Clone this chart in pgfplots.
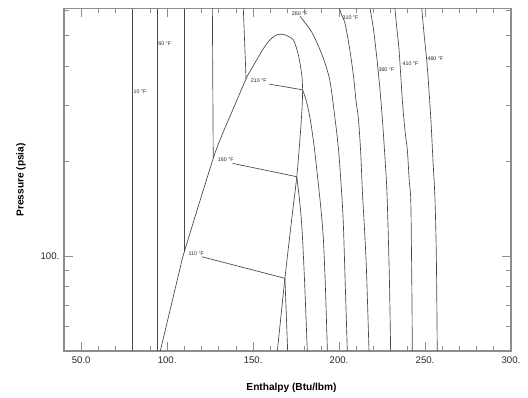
\documentclass[border=0pt]{standalone}
\usepackage{fontspec}
\setmainfont{Liberation Sans}
\usepackage{pgfplots}
\pgfplotsset{compat=1.18}
\tikzset{
  curve/.style={draw=black!72, line width=0.5pt},
  lab/.style={font=\fontsize{4}{4}\selectfont, anchor=west, inner sep=0pt, text=black!85},
}
\begin{document}
\begin{tikzpicture}
\path[use as bounding box] (0pt,0pt) rectangle (396pt,297.75pt);
\begin{axis}[
  at={(48pt,34.5pt)}, anchor=south west,
  width=335.25pt, height=256.7pt, scale only axis,
  xmin=40, xmax=300, ymode=log, ymin=50, ymax=608,
  axis line style={draw=black!45, line width=0.9pt},
  every tick/.style={draw=black!45, line width=0.6pt},
  major tick length=6.5pt, minor tick length=3.4pt,
  xtick={50,100,150,200,250,300},
  xticklabels={50.0,100.,150.,200.,250.,300.},
  minor xtick={60,70,80,90,110,120,130,140,160,170,180,190,210,220,230,240,260,270,280,290},
  ytick={100}, yticklabels={100.},
  minor ytick={60,70,80,90,200,300,400,500,600},
  tick label style={font=\fontsize{7.2}{8}\selectfont, text=black!85},
  xticklabel style={yshift=-1pt},
  label style={font=\bfseries\fontsize{7.6}{9}\selectfont},
  xlabel={Enthalpy (Btu/lbm)},
  ylabel={Pressure (psia)},
  xlabel style={at={(axis description cs:0.509,-0.108)}, anchor=center},
  ylabel style={at={(axis description cs:-0.096,0.5)}, anchor=center},
  clip=true,
]
% saturation dome
\addplot[curve, no marks, smooth, tension=0.4] coordinates {(96.0,50) (107.5,91.4) (110.0,103.2) (126.8,204) (133.1,250.7) (136.6,277.7) (145.9,364.6) (148.2,384.8) (152.1,418.8) (155.9,453.7) (159.8,484.6) (163.7,502.5) (166.6,505) (168.5,502.5) (173.4,484.6) (176.3,434.5) (178.3,375.4) (178.8,336.4) (178.4,290.2) (177.2,233.1) (175.4,178.4) (172.4,130.1) (168.5,85.0) (164.1,50)};
% compressed liquid isotherms
\addplot[curve, no marks] coordinates {(80.0,50) (80.0,608)};
\addplot[curve, no marks] coordinates {(94.3,50) (94.3,608)};
\addplot[curve, no marks] coordinates {(110.0,608) (110.0,103.2)};
\addplot[curve, no marks] coordinates {(126.3,608) (126.8,204)};
\addplot[curve, no marks] coordinates {(144.3,608) (145.9,364.6)};
% two-phase segments
\addplot[curve, no marks] coordinates {(120.1,99.5) (168.5,85.0)};
\addplot[curve, no marks] coordinates {(138.1,196.7) (175.4,178.4)};
\addplot[curve, no marks] coordinates {(159.4,350.8) (178.8,336.4)};
% superheated isotherms
\addplot[curve, no marks] coordinates {(168.5,85.0) (170.1,50)};
\addplot[curve, no marks, smooth] coordinates {(175.4,178.4) (177.0,150.5) (178.4,122.6) (179.9,83.9) (181.5,50)};
\addplot[curve, no marks, smooth] coordinates {(178.8,336.4) (180.8,312.2) (183.1,273.7) (185.4,224.7) (187.7,174.1) (189.5,139.9) (190.9,112.4) (192.1,78.0) (193.2,50)};
\addplot[curve, no marks, smooth] coordinates {(177.3,575.4) (180.8,543.5) (185.0,502.5) (190.8,424.0) (194.7,358.4) (197.6,273.7) (199.7,216.7) (201.5,158.4) (202.5,125.4) (203.7,78.0) (204.8,50)};
\addplot[curve, no marks, smooth] coordinates {(200.2,608) (201.7,576.7) (203.4,547.5) (205.8,466.3) (208.3,375.4) (209.8,312.2) (211.2,273.7) (212.5,216.7) (213.6,158.4) (214.5,130.1) (215.7,97.1) (216.5,72.5) (217.4,50)};
\addplot[curve, no marks, smooth] coordinates {(218.0,608) (219.2,559.6) (220.3,508.8) (222.1,417.8) (223.8,335.7) (225.1,275.7) (226.4,216.7) (227.5,174.1) (228.0,150.5) (228.7,112.4) (229.4,78.0) (230.0,50)};
\addplot[curve, no marks, smooth] coordinates {(232.5,608) (233.7,520.0) (234.9,449.5) (236.8,312.2) (238.3,250.5) (239.7,216.7) (240.8,174.1) (241.7,150.5) (242.1,104.5) (242.4,72.5) (242.6,50)};
\addplot[curve, no marks, smooth] coordinates {(248.1,608) (249.4,507.7) (251.3,398) (253.3,276.3) (254.6,201.5) (255.8,150.5) (256.6,97.1) (257.1,50)};
% labels
\node[lab] at (axis cs:80.3,331.6) {10 °F};
\node[lab] at (axis cs:94.7,470.7) {60 °F};
\node[lab] at (axis cs:112.3,102.0) {110 °F};
\node[lab] at (axis cs:129.4,201.6) {160 °F};
\node[lab] at (axis cs:148.6,360.4) {210 °F};
\node[lab] at (axis cs:172.4,586) {260 °F};
\node[lab] at (axis cs:201.9,569) {310 °F};
\node[lab] at (axis cs:222.8,390.5) {360 °F};
\node[lab] at (axis cs:236.8,407.9) {410 °F};
\node[lab] at (axis cs:251.3,423) {460 °F};
\end{axis}
\end{tikzpicture}
\end{document}
